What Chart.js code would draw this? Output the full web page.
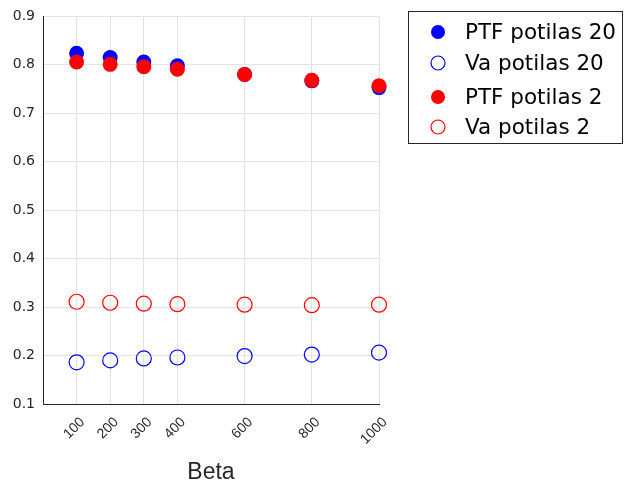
<!DOCTYPE html>
<html>
<head>
<meta charset="utf-8">
<script src="https://cdn.jsdelivr.net/npm/chart.js@4/dist/chart.umd.min.js"></script>
<style>
  html, body { margin: 0; padding: 0; background: #fff; }
  #wrap { width: 626px; height: 486px; }
</style>
</head>
<body>
<div id="wrap"><canvas id="betaChart" width="626" height="486"></canvas></div>
<script>
// Beta values on the x axis and the four measured series
const betaValues = [100, 200, 300, 400, 600, 800, 1000];
const ptf20 = [0.824, 0.815, 0.806, 0.798, 0.780, 0.767, 0.753];
const va20  = [0.186, 0.190, 0.194, 0.196, 0.199, 0.202, 0.206];
const ptf2  = [0.806, 0.801, 0.796, 0.791, 0.780, 0.768, 0.757];
const va2   = [0.311, 0.309, 0.307, 0.306, 0.305, 0.304, 0.305];
const yTicks = [0.1, 0.2, 0.3, 0.4, 0.5, 0.6, 0.7, 0.8, 0.9];
const seriesNames = ['PTF potilas 20', 'Va potilas 20', 'PTF potilas 2', 'Va potilas 2'];

const FONT = '"Liberation Sans", Arial, Helvetica, sans-serif';
const WIDE = '"DejaVu Sans", sans-serif';
const INK = '#262626';

function toPoints(ys) {
    return betaValues.map((b, i) => ({ x: b, y: ys[i] }));
}

function series(label, ys, color, filled, order) {
    return {
        label: label,
        data: toPoints(ys),
        pointRadius: 7.5,
        pointHoverRadius: 7.5,
        pointBorderWidth: filled ? 0 : 1.2,
        borderColor: color,
        backgroundColor: filled ? color : 'rgba(0,0,0,0)',
        showLine: false,
        clip: false,
        order: order,
        filled: filled
    };
}

// legend drawn inside a framed box to the right of the axes
const boxLegend = {
    id: 'boxLegend',
    afterDraw(chart) {
        const ctx = chart.ctx;
        const left = 408.5, top = 11.5, w = 214, h = 132;
        ctx.save();
        ctx.fillStyle = '#fff';
        ctx.fillRect(left, top, w, h);
        ctx.strokeStyle = INK;
        ctx.lineWidth = 1;
        ctx.strokeRect(left, top, w, h);
        const rows = [32, 63, 97, 127];
        chart.data.datasets.forEach((ds, i) => {
            const y = rows[i];
            ctx.beginPath();
            ctx.arc(438, y, 7, 0, Math.PI * 2);
            if (ds.filled) {
                ctx.fillStyle = ds.borderColor;
                ctx.fill();
            } else {
                ctx.strokeStyle = ds.borderColor;
                ctx.lineWidth = 1.2;
                ctx.stroke();
            }
            ctx.fillStyle = '#000';
            ctx.font = '21.5px ' + WIDE;
            ctx.textBaseline = 'middle';
            ctx.textAlign = 'left';
            ctx.fillText(ds.label, 465, y + 1);
        });
        ctx.restore();
    }
};

new Chart(document.getElementById('betaChart'), {
    type: 'scatter',
    data: {
        datasets: [
            series(seriesNames[0], ptf20, '#0000ff', true, 4),
            series(seriesNames[1], va20, '#0000ff', false, 3),
            series(seriesNames[2], ptf2, '#ff0000', true, 2),
            series(seriesNames[3], va2, '#ff0000', false, 1)
        ]
    },
    options: {
        responsive: false,
        animation: false,
        layout: { padding: { top: 12, right: 247, left: 0, bottom: 0 } },
        plugins: {
            legend: { display: false },
            tooltip: { enabled: false }
        },
        scales: {
            x: {
                type: 'linear',
                min: 0,
                max: 1000,
                afterBuildTicks: scale => { scale.ticks = betaValues.map(v => ({ value: v })); },
                afterFit: scale => { scale.height = 82; },
                grid: { color: '#e3e3e3', drawTicks: false },
                border: { color: INK, width: 1 },
                ticks: {
                    minRotation: 45,
                    maxRotation: 45,
                    padding: 10,
                    labelOffset: 6,
                    color: INK,
                    font: { family: FONT, size: 14 },
                    callback: v => String(v)
                },
                title: {
                    display: true,
                    text: 'Beta',
                    color: INK,
                    font: { family: FONT, size: 23, lineHeight: 0.85 },
                    padding: { top: 4 }
                }
            },
            y: {
                min: 0.1,
                max: 0.9,
                afterBuildTicks: scale => { scale.ticks = yTicks.map(v => ({ value: v })); },
                afterFit: scale => { scale.width = 43; },
                grid: { color: '#e3e3e3', drawTicks: false },
                border: { color: INK, width: 1 },
                ticks: {
                    padding: 8,
                    color: INK,
                    font: { family: WIDE, size: 14 },
                    callback: v => v.toFixed(1)
                }
            }
        }
    },
    plugins: [boxLegend]
});
</script>
</body>
</html>
